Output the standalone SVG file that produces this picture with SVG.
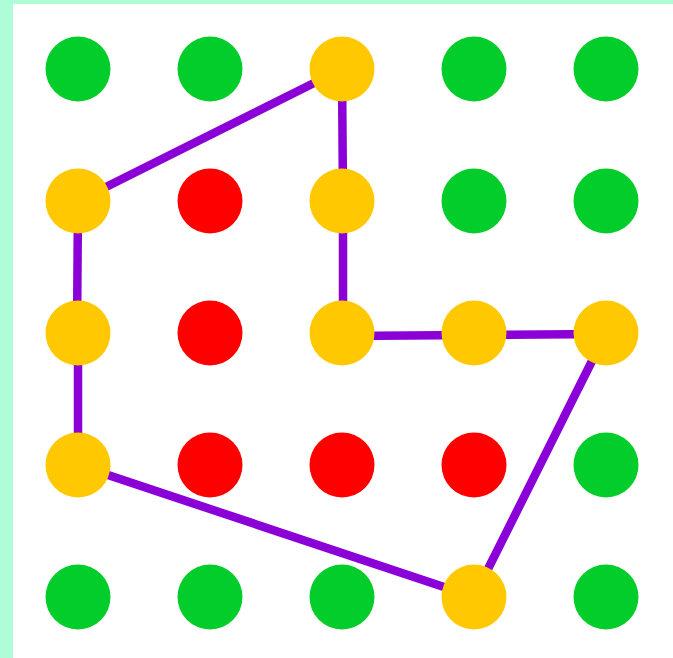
<svg xmlns="http://www.w3.org/2000/svg" width="673" height="658" viewBox="0 0 673 658">
<style>
.g{fill:#02cd2a}.r{fill:#ff0000}.y{fill:#ffc800}
.c line{stroke:#8a00d6;stroke-width:8.5;stroke-linecap:butt}
</style>
<rect width="673" height="658" fill="#ffffff"/>
<rect x="0" y="0" width="673" height="4" fill="#affdd6"/>
<rect x="0" y="0" width="13" height="658" fill="#affdd6"/>
<g class="c" id="connectors">
<line x1="78" y1="201" x2="342" y2="69"/>
<line x1="342" y1="69" x2="343" y2="201"/>
<line x1="343" y1="201" x2="343" y2="334"/>
<line x1="343" y1="336" x2="474" y2="335"/>
<line x1="474" y1="335" x2="606" y2="334"/>
<line x1="606" y1="333" x2="474" y2="597"/>
<line x1="474" y1="597" x2="78" y2="465"/>
<line x1="78" y1="465" x2="78" y2="333"/>
<line x1="77" y1="333" x2="78" y2="201"/>
</g>
<g id="n00"><circle class="g" cx="78" cy="69" r="32.5"/></g>
<g id="n01"><circle class="g" cx="210" cy="69" r="32.5"/></g>
<g id="n02"><circle class="y" cx="342" cy="69" r="32.5"/></g>
<g id="n03"><circle class="g" cx="474" cy="69" r="32.5"/></g>
<g id="n04"><circle class="g" cx="606" cy="69" r="32.5"/></g>
<g id="n10"><circle class="y" cx="78" cy="201" r="32.5"/></g>
<g id="n11"><circle class="r" cx="210" cy="201" r="32.5"/></g>
<g id="n12"><circle class="y" cx="342" cy="201" r="32.5"/></g>
<g id="n13"><circle class="g" cx="474" cy="201" r="32.5"/></g>
<g id="n14"><circle class="g" cx="606" cy="201" r="32.5"/></g>
<g id="n20"><circle class="y" cx="78" cy="333" r="32.5"/></g>
<g id="n21"><circle class="r" cx="210" cy="333" r="32.5"/></g>
<g id="n22"><circle class="y" cx="342" cy="333" r="32.5"/></g>
<g id="n23"><circle class="y" cx="474" cy="333" r="32.5"/></g>
<g id="n24"><circle class="y" cx="606" cy="333" r="32.5"/></g>
<g id="n30"><circle class="y" cx="78" cy="465" r="32.5"/></g>
<g id="n31"><circle class="r" cx="210" cy="465" r="32.5"/></g>
<g id="n32"><circle class="r" cx="342" cy="465" r="32.5"/></g>
<g id="n33"><circle class="r" cx="474" cy="465" r="32.5"/></g>
<g id="n34"><circle class="g" cx="606" cy="465" r="32.5"/></g>
<g id="n40"><circle class="g" cx="78" cy="597" r="32.5"/></g>
<g id="n41"><circle class="g" cx="210" cy="597" r="32.5"/></g>
<g id="n42"><circle class="g" cx="342" cy="597" r="32.5"/></g>
<g id="n43"><circle class="y" cx="474" cy="597" r="32.5"/></g>
<g id="n44"><circle class="g" cx="606" cy="597" r="32.5"/></g>
</svg>
